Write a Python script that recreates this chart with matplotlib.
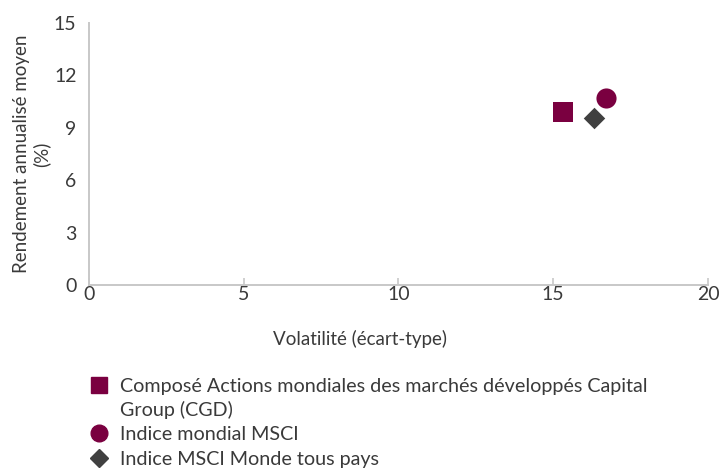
import matplotlib.pyplot as plt
from matplotlib.lines import Line2D

# data
labels = [
    "Composé Actions mondiales des marchés développés Capital\nGroup (CGD)",
    "Indice mondial MSCI",
    "Indice MSCI Monde tous pays",
]
volatility = [15.32, 16.72, 16.32]
returns = [9.92, 10.69, 9.59]
markers = ["s", "o", "D"]
colors = ["#7a0040", "#7a0040", "#404040"]
sizes = [190, 210, 120]

x_ticks = [0, 5, 10, 15, 20]
y_ticks = [0, 3, 6, 9, 12, 15]

text_col = "#3a3a3a"
plt.rcParams["font.family"] = ["Lato", "DejaVu Sans"]

fig = plt.figure(figsize=(7.21, 4.70), dpi=100)
ax = fig.add_axes([0.1234, 0.3936, 0.8586, 0.5574])

for x, y, m, c, s in zip(volatility, returns, markers, colors, sizes):
    ax.scatter(x, y, marker=m, color=c, s=s, linewidths=0, zorder=3, clip_on=False)

ax.set_xlim(0, 20)
ax.set_ylim(0, 15)
ax.set_xticks(x_ticks)
ax.set_yticks(y_ticks)
ax.tick_params(axis="x", direction="in", length=5, width=1.2, color="#c8c8c8",
               labelsize=14, labelcolor=text_col, pad=1)
ax.tick_params(axis="y", length=0, labelsize=14, labelcolor=text_col, pad=9)

for side in ["top", "right"]:
    ax.spines[side].set_visible(False)
for side in ["left", "bottom"]:
    ax.spines[side].set_color("#c8c8c8")
    ax.spines[side].set_linewidth(1.4)

ax.set_xlabel("Volatilité (écart-type)", fontsize=13.5, color=text_col)
ax.xaxis.set_label_coords(0.438, -0.17)
ax.set_ylabel("Rendement annualisé moyen\n(%)", fontsize=13.5, color=text_col,
              linespacing=1.15)
ax.yaxis.set_label_coords(-0.062, 0.5)

handles = [Line2D([], [], marker=m, color=c, linestyle="none", markersize=ms)
           for m, c, ms in zip(markers, colors, [11, 12, 9])]
leg = fig.legend(handles, labels, loc="upper left", bbox_to_anchor=(0.114, 0.213),
                 frameon=False, fontsize=14.2, handlelength=0.9, handletextpad=0.6,
                 labelspacing=0.38, borderaxespad=0, labelcolor=text_col)
for t in leg.get_texts():
    t.set_linespacing(1.4)
# keep the marker of the wrapped entry on its first line
for col in leg._legend_handle_box.get_children():
    col.get_children()[0].align = "top"

fig.savefig("out.png", dpi=100)
